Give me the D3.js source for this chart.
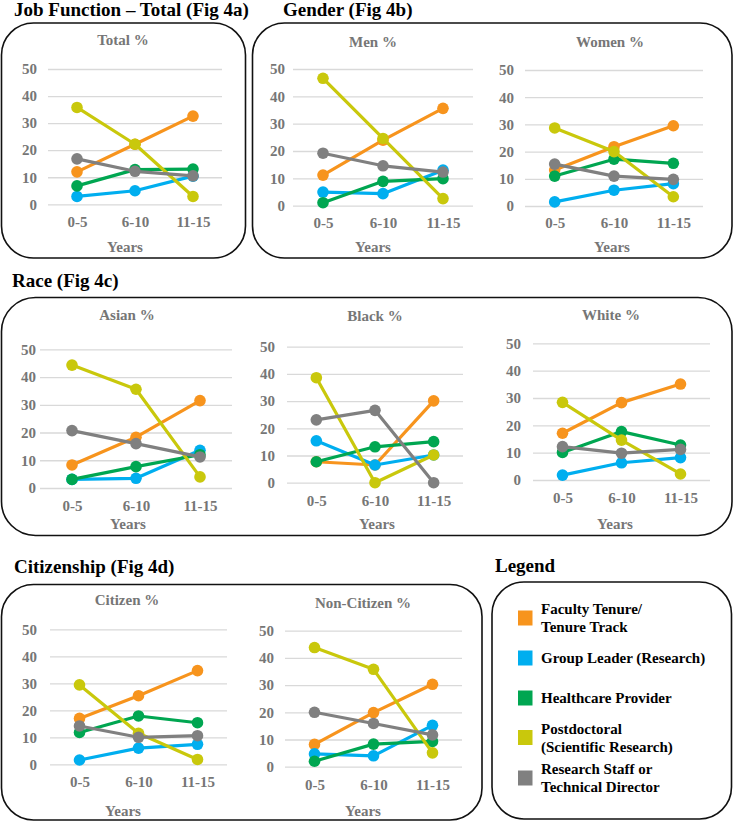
<!DOCTYPE html>
<html>
<head>
<meta charset="utf-8">
<script src="https://cdn.jsdelivr.net/npm/d3@7"></script>
<style>
  html, body { margin: 0; padding: 0; background: #fff; }
  svg { display: block; }
</style>
</head>
<body>
<div id="chart"></div>
<script>
// ---------------- DATA ----------------
const categories = ["0-5", "6-10", "11-15"];
const seriesNames = [
  "Faculty Tenure/\nTenure Track",
  "Group Leader (Research)",
  "Healthcare Provider",
  "Postdoctoral\n(Scientific Research)",
  "Research Staff or\nTechnical Director"
];
const yTicks = [0, 10, 20, 30, 40, 50];

// rows: Faculty, Group Leader, Healthcare, Postdoctoral, Research Staff
const totalValues = [
  [12.0, 22.2, 32.6],
  [2.9, 5.0, 10.4],
  [6.8, 12.8, 13.0],
  [35.8, 22.2, 2.9],
  [16.8, 12.2, 10.5]
];
const menValues = [
  [11.2, 24.0, 35.6],
  [5.0, 4.4, 13.0],
  [1.1, 8.9, 9.9],
  [46.6, 24.6, 2.6],
  [19.2, 14.6, 12.3]
];
const womenValues = [
  [13.2, 21.8, 29.5],
  [1.5, 5.8, 8.2],
  [11.0, 17.2, 15.7],
  [28.7, 20.0, 3.4],
  [15.4, 11.0, 9.8]
];
const asianValues = [
  [8.3, 18.3, 31.5],
  [3.1, 3.5, 13.6],
  [3.1, 7.7, 12.0],
  [44.3, 35.6, 4.0],
  [20.7, 16.0, 11.2]
];
const blackValues = [
  [7.7, 6.5, 30.1],
  [15.4, 6.5, 10.2],
  [7.7, 13.2, 15.1],
  [38.6, 0.0, 10.2],
  [23.1, 26.6, 0.0]
];
const whiteValues = [
  [17.1, 28.3, 35.1],
  [1.8, 6.3, 8.2],
  [10.1, 17.7, 12.8],
  [28.4, 14.6, 2.2],
  [12.2, 9.8, 11.2]
];
const citizenValues = [
  [17.0, 25.4, 34.7],
  [1.6, 6.0, 7.4],
  [11.8, 17.9, 15.4],
  [29.4, 11.5, 1.8],
  [14.2, 10.0, 10.6]
];
const nonCitizenValues = [
  [8.2, 19.9, 30.3],
  [4.7, 4.0, 15.2],
  [2.0, 8.3, 9.3],
  [43.8, 35.8, 5.1],
  [20.0, 15.9, 11.7]
];

// ---------------- STYLE / LAYOUT ----------------
const FONT = "'Liberation Serif', 'Times New Roman', Times, 'DejaVu Serif', serif";
const colors = ["#F7941D", "#00AEEF", "#00A651", "#C9C80C", "#808080"];
const textGray = "#767676";
const gridColor = "#D9D9D9";

const W = 734, H = 823;
const svg = d3.select("#chart").append("svg").attr("width", W).attr("height", H)
  .attr("font-family", FONT).attr("font-weight", "bold");

// Rounded group boxes
const boxes = [
  {x: 1.5, y: 23, w: 244, h: 235, r: 32},
  {x: 252.5, y: 23, w: 479.5, h: 235, r: 32},
  {x: 1.5, y: 297.5, w: 730.5, h: 238, r: 34},
  {x: 1.5, y: 584.5, w: 480.5, h: 235.5, r: 32},
  {x: 492, y: 582, w: 239.5, h: 237, r: 32}
];
svg.selectAll("rect.box").data(boxes).enter().append("rect")
  .attr("class", "box")
  .attr("x", d => d.x).attr("y", d => d.y)
  .attr("width", d => d.w).attr("height", d => d.h)
  .attr("rx", d => d.r).attr("ry", d => d.r)
  .attr("fill", "none").attr("stroke", "#111").attr("stroke-width", 1.6);

// Section headings
const headings = [
  {t: "Job Function \u2013 Total (Fig 4a)", x: 14, y: 16},
  {t: "Gender (Fig 4b)", x: 283, y: 16},
  {t: "Race (Fig 4c)", x: 12, y: 287},
  {t: "Citizenship (Fig 4d)", x: 14, y: 573},
  {t: "Legend", x: 495, y: 572}
];
svg.selectAll("text.head").data(headings).enter().append("text")
  .attr("class", "head")
  .attr("x", d => d.x).attr("y", d => d.y)
  .attr("font-family", FONT).attr("font-weight", "bold")
  .attr("font-size", 19).attr("fill", "#000")
  .text(d => d.t);

// Panels
const panels = [
  {title: "Total %", values: totalValues, gx: [48, 222], y0: 204.3, y50: 69, labelRight: 37, tx: 123, ty: 40, xly: 222, yx: 125, yy: 247},
  {title: "Men %", values: menValues, gx: [293, 473], y0: 205.7, y50: 69, labelRight: 285, tx: 373, ty: 42, xly: 223, yx: 373, yy: 247},
  {title: "Women %", values: womenValues, gx: [525, 703], y0: 206, y50: 70, labelRight: 514, tx: 610, ty: 42, xly: 223, yx: 612, yy: 247},
  {title: "Asian %", values: asianValues, gx: [40, 232], y0: 488, y50: 349.3, labelRight: 36, tx: 127, ty: 315, xly: 506, yx: 128, yy: 524},
  {title: "Black %", values: blackValues, gx: [287, 463], y0: 482.7, y50: 346.7, labelRight: 275, tx: 375, ty: 316, xly: 501, yx: 377, yy: 524},
  {title: "White %", values: whiteValues, gx: [533, 710], y0: 480, y50: 343.3, labelRight: 521, tx: 611, ty: 315, xly: 498, yx: 615, yy: 524},
  {title: "Citizen %", values: citizenValues, gx: [50, 227], y0: 764.3, y50: 629.3, labelRight: 37, tx: 127, ty: 600, xly: 782, yx: 123, yy: 811},
  {title: "Non-Citizen %", values: nonCitizenValues, gx: [285, 462], y0: 766.7, y50: 630.7, labelRight: 274, tx: 363, ty: 603, xly: 785, yx: 363, yy: 811}
];

panels.forEach(p => {
  const g = svg.append("g");
  const x = d3.scalePoint().domain(categories).range(p.gx).padding(0.5);
  const y = d3.scaleLinear().domain([0, 50]).range([p.y0, p.y50]);

  // gridlines
  g.append("g").attr("transform", `translate(${p.gx[0]},0)`)
    .call(d3.axisLeft(y).tickValues(yTicks).tickSize(-(p.gx[1] - p.gx[0])).tickFormat(""))
    .call(a => a.select(".domain").remove())
    .call(a => a.selectAll("line").attr("stroke", gridColor).attr("stroke-width", 1.3));

  // y labels
  g.append("g").attr("transform", `translate(${p.gx[0]},0)`)
    .call(d3.axisLeft(y).tickValues(yTicks).tickSize(0).tickPadding(p.gx[0] - p.labelRight))
    .attr("font-family", FONT).attr("font-size", 15)
    .call(a => a.select(".domain").remove())
    .call(a => a.selectAll("text")
      .attr("font-size", 15).attr("fill", textGray)
      .attr("font-family", FONT).attr("font-weight", "bold"));

  // x labels
  g.append("g").attr("transform", `translate(0,${p.xly})`)
    .call(d3.axisBottom(x).tickSize(0).tickPadding(0))
    .attr("font-family", FONT).attr("font-size", 15)
    .call(a => a.select(".domain").remove())
    .call(a => a.selectAll("text")
      .attr("y", 0).attr("dy", "0.35em")
      .attr("font-size", 15).attr("fill", textGray)
      .attr("font-family", FONT).attr("font-weight", "bold"));

  // titles
  g.append("text").attr("x", p.tx).attr("y", p.ty).attr("dy", "0.35em")
    .attr("text-anchor", "middle").attr("font-size", 15).attr("fill", textGray)
    .attr("font-family", FONT).attr("font-weight", "bold")
    .text(p.title);
  g.append("text").attr("x", p.yx).attr("y", p.yy).attr("dy", "0.35em")
    .attr("text-anchor", "middle").attr("font-size", 15).attr("fill", textGray)
    .attr("font-family", FONT).attr("font-weight", "bold")
    .text("Years");

  // series
  const line = d3.line().x((d, i) => x(categories[i])).y(d => y(d));
  p.values.forEach((vals, si) => {
    const sg = g.append("g");
    sg.append("path").datum(vals).attr("d", line)
      .attr("fill", "none").attr("stroke", colors[si]).attr("stroke-width", 3.2)
      .attr("stroke-linejoin", "round");
    sg.selectAll("circle").data(vals).enter().append("circle")
      .attr("cx", (d, i) => x(categories[i])).attr("cy", d => y(d))
      .attr("r", 5.8).attr("fill", colors[si]);
  });
});

// Legend
const legendY = [618, 658, 698, 737.5, 778];
const leg = svg.append("g");
seriesNames.forEach((name, i) => {
  leg.append("rect").attr("x", 518).attr("y", legendY[i] - 7.5)
    .attr("width", 14.5).attr("height", 15).attr("fill", colors[i]);
  const lines = name.split("\n");
  const t = leg.append("text").attr("x", 541).attr("font-size", 15).attr("fill", "#000")
    .attr("font-family", FONT).attr("font-weight", "bold");
  lines.forEach((ln, k) => {
    t.append("tspan").attr("x", 541)
      .attr("y", legendY[i] + (k - (lines.length - 1) / 2) * 18)
      .attr("dy", "0.35em").text(ln);
  });
});
</script>
</body>
</html>
